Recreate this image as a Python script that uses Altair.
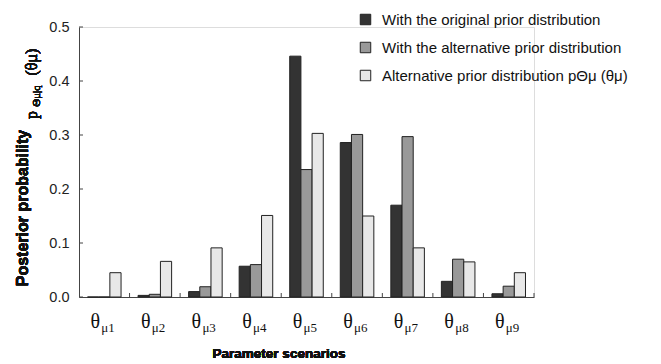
import altair as alt
import pandas as pd

categories = ["θμ1", "θμ2", "θμ3", "θμ4", "θμ5", "θμ6", "θμ7", "θμ8", "θμ9"]
label_main = ["θ"] * 9
label_sub = ["μ1", "μ2", "μ3", "μ4", "μ5", "μ6", "μ7", "μ8", "μ9"]
series = [
    "With the original prior distribution",
    "With the alternative prior distribution",
    "Alternative prior distribution pΘμ (θμ)",
]
orig = [0.0, 0.003, 0.010, 0.057, 0.446, 0.286, 0.170, 0.029, 0.006]
altp = [0.0, 0.005, 0.019, 0.060, 0.236, 0.301, 0.297, 0.070, 0.020]
prior = [0.045, 0.066, 0.091, 0.151, 0.303, 0.150, 0.091, 0.065, 0.045]
y_ticks = [0.0, 0.1, 0.2, 0.3, 0.4, 0.5]
colors = ["#333333", "#999999", "#e8e8e8"]

rows = []
for i, c in enumerate(categories):
    for s, vals in zip(series, [orig, altp, prior]):
        rows.append({"cat": c, "series": s, "value": vals[i]})
df = pd.DataFrame(rows)
lab = pd.DataFrame({"cat": categories, "main": label_main, "sub": label_sub})
ytk = pd.DataFrame({"v": y_ticks})

W, H = 455, 270
xscale = alt.Scale(domain=categories, paddingInner=0, paddingOuter=0)
yscale = alt.Scale(domain=[0, 0.5], nice=False)

bars = alt.Chart(df).mark_bar(stroke="#222222", strokeWidth=1).encode(
    x=alt.X("cat:N", scale=xscale, sort=categories,
            axis=alt.Axis(labels=False, ticks=False, title=None,
                          domainColor="#444444", grid=False)),
    xOffset=alt.XOffset("series:N", sort=series,
                        scale=alt.Scale(paddingInner=0, paddingOuter=0.76)),
    y=alt.Y("value:Q", scale=yscale,
            axis=alt.Axis(values=y_ticks, format=".1f", ticks=False, grid=False,
                          title=None, domainColor="#444444",
                          labelFont="Liberation Sans", labelFontSize=14.5,
                          labelColor="#222222", labelPadding=10)),
    fill=alt.Fill("series:N", sort=series,
                  scale=alt.Scale(domain=series, range=colors),
                  legend=alt.Legend(title=None, orient="none", legendX=279, legendY=-15,
                                    symbolType="square", symbolSize=110,
                                    symbolStrokeColor="#222222", symbolStrokeWidth=1,
                                    labelFont="Liberation Sans", labelFontSize=15,
                                    labelColor="#111111", labelLimit=400,
                                    rowPadding=12, labelOffset=9)),
)

xt = alt.Chart(lab).mark_rule(color="#444444").encode(
    x=alt.X("cat:N", scale=xscale, sort=categories, bandPosition=1),
    y=alt.value(H - 4), y2=alt.value(H),
)
yt = alt.Chart(ytk).mark_rule(color="#444444").encode(
    y=alt.Y("v:Q", scale=yscale), x=alt.value(0), x2=alt.value(4),
)

lmain = alt.Chart(lab).mark_text(font="Liberation Serif", fontSize=20, dx=-9,
                                 baseline="middle", color="#111111").encode(
    x=alt.X("cat:N", scale=xscale, sort=categories), y=alt.value(H + 25), text="main:N")
lsub = alt.Chart(lab).mark_text(font="Liberation Serif", fontSize=13, dx=-3, align="left",
                                baseline="middle", color="#111111").encode(
    x=alt.X("cat:N", scale=xscale, sort=categories), y=alt.value(H + 31), text="sub:N")

xtitle = alt.Chart(lab).mark_text(font="Liberation Sans", fontSize=13.5, fontWeight="bold",
                                  color="#111111").encode(
    x=alt.value(200), y=alt.value(H + 57), text=alt.value("Parameter scenarios"))
ytitle = alt.Chart(lab).mark_text(font="Liberation Sans", fontSize=16, fontWeight="bold",
                                  angle=270, color="#111111").encode(
    x=alt.value(-56), y=alt.value(181), text=alt.value("Posterior probability"))
yp = alt.Chart(lab).mark_text(font="Liberation Serif", fontSize=16, angle=270,
                              color="#111111").encode(
    x=alt.value(-47), y=alt.value(88), text=alt.value("p"))
ypsub = alt.Chart(lab).mark_text(font="Liberation Serif", fontSize=11, angle=270,
                                 color="#111111").encode(
    x=alt.value(-42), y=alt.value(69), text=alt.value("Θμ|q"))
yparen = alt.Chart(lab).mark_text(font="Liberation Serif", fontSize=16, angle=270,
                                  color="#111111").encode(
    x=alt.value(-47), y=alt.value(35), text=alt.value("(θμ)"))

chart = alt.layer(bars, xt, yt, lmain, lsub, xtitle, ytitle, yp, ypsub, yparen).properties(
    width=W, height=H,
    autosize=alt.AutoSizeParams(type="none"),
    padding={"left": 71, "top": 19, "right": 110, "bottom": 66},
).configure_view(stroke=None).configure(background="white")

chart.save("out.html", embed_options={"renderer": "svg", "actions": False})
